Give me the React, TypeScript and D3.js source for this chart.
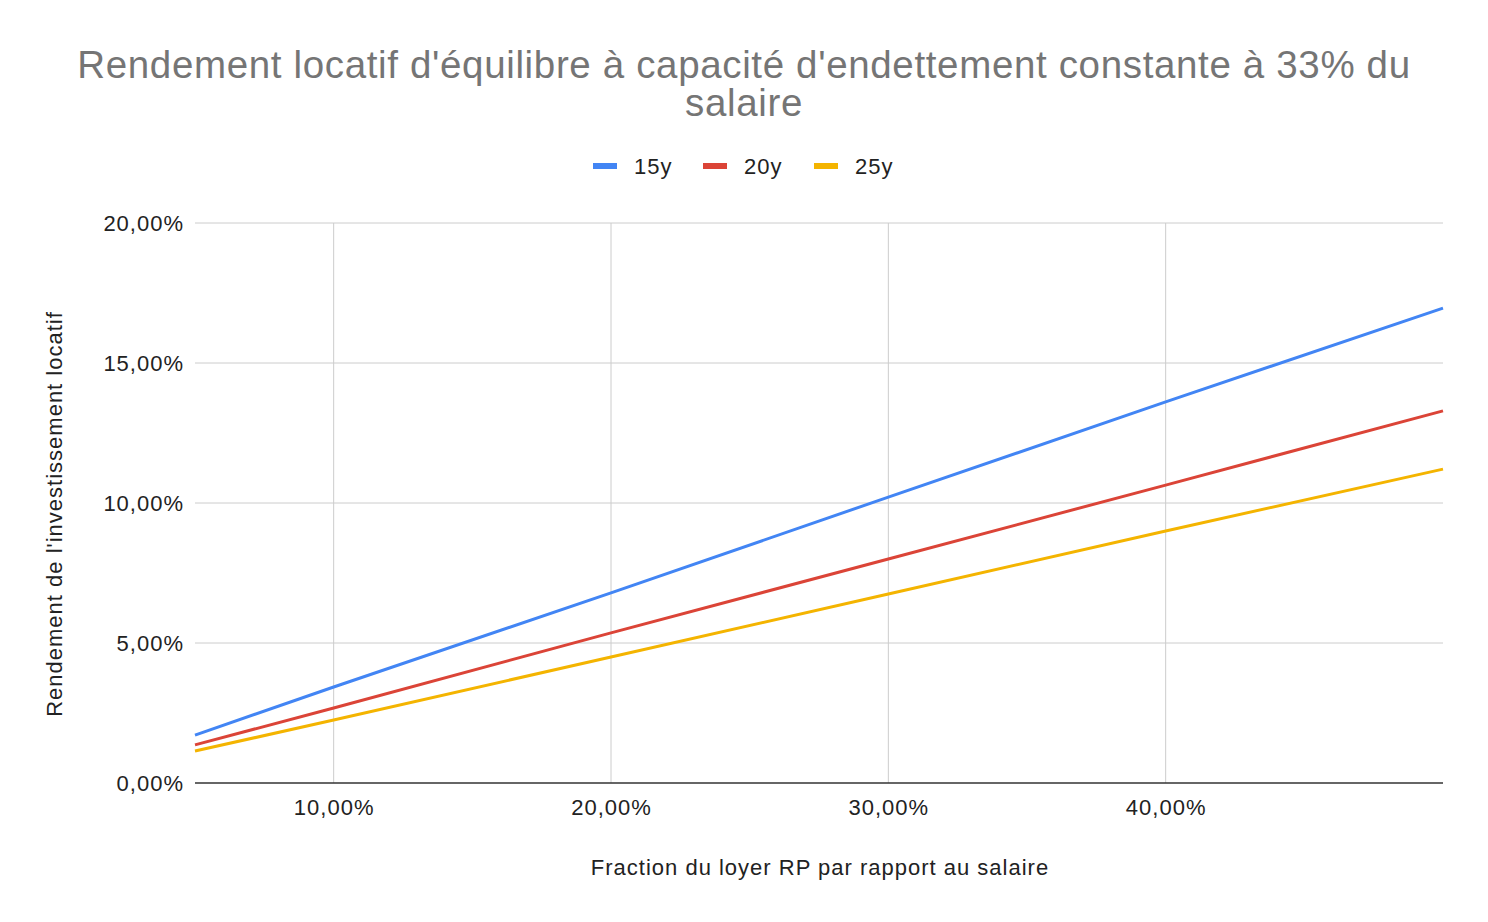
import React from "react";
import * as d3 from "d3";

const fractions = [0.05, 0.1, 0.2, 0.3, 0.4, 0.5];
const y15 = [0.0171, 0.0343, 0.0679, 0.1021, 0.1361, 0.1696];
const y20 = [0.0136, 0.0268, 0.0536, 0.08, 0.1064, 0.1329];
const y25 = [0.0114, 0.0225, 0.045, 0.0675, 0.09, 0.1121];
const seriesNames = ["15y", "20y", "25y"];
const seriesColors = ["#4285F4", "#DB4437", "#F4B400"];
const xTicks = [0.1, 0.2, 0.3, 0.4];
const yTicks = [0, 0.05, 0.1, 0.15, 0.2];

const W = 1488;
const H = 922;
const FONT = "'Liberation Sans', Arial, sans-serif";

export default function App() {
  const x = d3.scaleLinear().domain([0.05, 0.5]).range([195, 1443]);
  const y = d3.scaleLinear().domain([0, 0.2]).range([783, 223]);
  const fmt = (v: number) => (v * 100).toFixed(2).replace(".", ",") + "%";
  const allSeries = [y15, y20, y25];
  const line = d3
    .line<[number, number]>()
    .x((d) => x(d[0]))
    .y((d) => y(d[1]));
  const legendX = [593, 703, 814];

  return (
    <svg width={W} height={H} style={{ position: "absolute", left: 0, top: 0, background: "#fff" }} fontFamily={FONT}>
      <rect width={W} height={H} fill="#fff" />
      <text x={744} y={78} textAnchor="middle" fontSize={38.5} letterSpacing={0.65} fill="#757575">
        Rendement locatif d'équilibre à capacité d'endettement constante à 33% du
      </text>
      <text x={744} y={116} textAnchor="middle" fontSize={38.5} letterSpacing={0.65} fill="#757575">
        salaire
      </text>
      {seriesNames.map((n, i) => (
        <g key={n}>
          <rect x={legendX[i]} y={163} width={24} height={6} fill={seriesColors[i]} />
          <text x={legendX[i] + 41} y={174} fontSize={22} letterSpacing={1} fill="#222">
            {n}
          </text>
        </g>
      ))}
      {yTicks.map((t) => (
        <g key={"y" + t}>
          {t > 0 && <line x1={195} x2={1443} y1={y(t)} y2={y(t)} stroke="#cccccc" strokeWidth={1} />}
          <text x={184} y={y(t) + 7.5} textAnchor="end" fontSize={22} letterSpacing={1} fill="#222">
            {fmt(t)}
          </text>
        </g>
      ))}
      {xTicks.map((t) => (
        <g key={"x" + t}>
          <line x1={x(t)} x2={x(t)} y1={223} y2={783} stroke="#cccccc" strokeWidth={1} />
          <text x={x(t) + 0.5} y={815} textAnchor="middle" fontSize={22} letterSpacing={1} fill="#222">
            {fmt(t)}
          </text>
        </g>
      ))}
      <line x1={195} x2={1443} y1={783} y2={783} stroke="#333" strokeWidth={1.5} />
      {allSeries.map((s, i) => (
        <path
          key={i}
          d={line(fractions.map((f, j) => [f, s[j]] as [number, number])) || ""}
          fill="none"
          stroke={seriesColors[i]}
          strokeWidth={3}
        />
      ))}
      <text x={820} y={875} textAnchor="middle" fontSize={22} letterSpacing={1} fill="#222">
        Fraction du loyer RP par rapport au salaire
      </text>
      <text
        transform={`translate(62,514) rotate(-90)`}
        textAnchor="middle"
        fontSize={22}
        letterSpacing={1}
        fill="#222"
      >
        Rendement de l'investissement locatif
      </text>
    </svg>
  );
}
